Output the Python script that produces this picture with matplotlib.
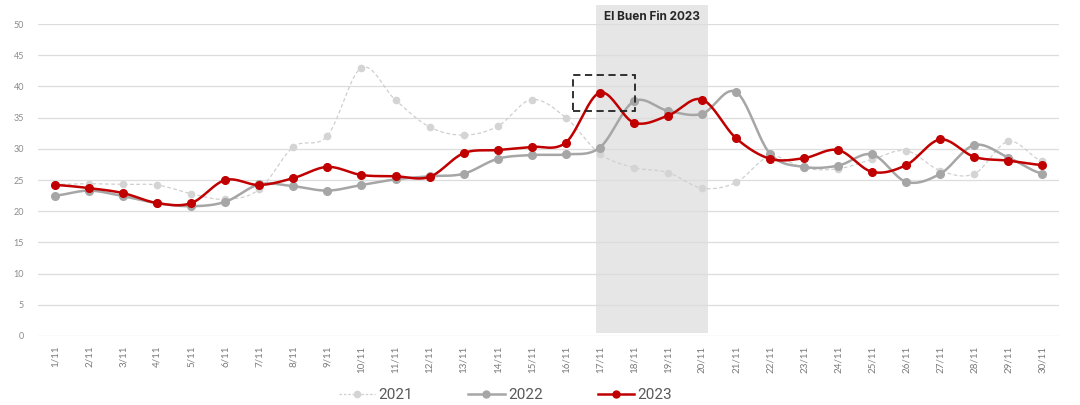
import numpy as np
import matplotlib
matplotlib.use("Agg")
import matplotlib.pyplot as plt
from matplotlib.patches import Rectangle

days = [f"{d}/11" for d in range(1, 31)]
y2021 = [24.3, 24.4, 24.3, 24.2, 22.8, 21.9, 23.5, 30.3, 32.1, 43.0,
         37.8, 33.5, 32.2, 33.6, 37.9, 35.0, 29.2, 27.0, 26.2, 23.7,
         24.6, 28.8, 26.9, 26.8, 28.3, 29.7, 26.5, 26.0, 31.2, 28.0]
y2022 = [22.5, 23.3, 22.4, 21.3, 20.8, 21.5, 24.3, 24.0, 23.3, 24.2,
         25.1, 25.6, 26.0, 28.4, 29.0, 29.1, 30.2, 37.6, 36.1, 35.6,
         39.1, 29.2, 27.1, 27.3, 29.1, 24.7, 26.0, 30.6, 28.6, 26.0]
y2023 = [24.2, 23.7, 22.9, 21.3, 21.3, 25.0, 24.2, 25.3, 27.1, 25.8,
         25.6, 25.5, 29.3, 29.8, 30.3, 31.0, 39.0, 34.2, 35.3, 37.9,
         31.7, 28.4, 28.5, 29.8, 26.3, 27.4, 31.5, 28.7, 28.1, 27.4]


def smooth(y, n=24):
    # catmull-rom curve through the points (like excel "smoothed line")
    y = np.asarray(y, float)
    xs, ys = [], []
    t = np.linspace(0, 1, n)
    for i in range(len(y) - 1):
        p0 = y[i - 1] if i > 0 else y[i]
        p3 = y[i + 2] if i + 2 < len(y) else y[i + 1]
        m1 = (y[i + 1] - p0) / 2
        m2 = (p3 - y[i]) / 2
        h00 = 2 * t**3 - 3 * t**2 + 1
        h10 = t**3 - 2 * t**2 + t
        h01 = -2 * t**3 + 3 * t**2
        h11 = t**3 - t**2
        xs.append(i + t)
        ys.append(h00 * y[i] + h10 * m1 + h01 * y[i + 1] + h11 * m2)
    return np.concatenate(xs), np.concatenate(ys)


fig = plt.figure(figsize=(10.8, 4.05), dpi=100)
ax = fig.add_axes([0.0352, 0.1704, 0.9458, 0.7703])
x = np.arange(len(days))

band = Rectangle((15.9, 0.5), 3.27, 52.6, facecolor="#e6e6e6",
                 edgecolor="none", zorder=0.5, clip_on=False)
ax.add_patch(band)
ax.text(17.53, 51.1, "El Buen Fin 2023", ha="center", va="center",
        fontsize=8.5, fontweight="bold", color="#262626", family="Inter")
ax.add_patch(Rectangle((15.2, 36.1), 1.83, 5.7, fill=False, edgecolor="#222222",
                       linestyle=(0, (4, 2.5)), linewidth=1.3, zorder=5))

sx, sy = smooth(y2021)
ax.plot(sx, sy, color="#cfcfcf", linewidth=0.9, linestyle=(0, (3, 2)), zorder=2)
ax.plot(x, y2021, "o", color="#d4d4d4", markersize=4.5, zorder=2)
sx, sy = smooth(y2022)
ax.plot(sx, sy, color="#a6a6a6", linewidth=1.8, zorder=3)
ax.plot(x, y2022, "o", color="#a6a6a6", markersize=5.5, zorder=3)
sx, sy = smooth(y2023)
ax.plot(sx, sy, color="#c00000", linewidth=1.8, zorder=4)
ax.plot(x, y2023, "o", color="#c00000", markersize=5.5, zorder=4)

# legend handles
h1, = ax.plot([], [], color="#cfcfcf", linewidth=0.9, linestyle=(0, (2, 1.5)),
              marker="o", markersize=4.5, markerfacecolor="#d4d4d4",
              markeredgecolor="#d4d4d4")
h2, = ax.plot([], [], color="#a6a6a6", linewidth=1.8, marker="o", markersize=5)
h3, = ax.plot([], [], color="#c00000", linewidth=1.8, marker="o", markersize=5)
leg = fig.legend([h1, h2, h3], ["2021", "2022", "2023"], loc="center",
                 bbox_to_anchor=(0.468, 0.025), ncol=3, frameon=False,
                 handlelength=2.4, handletextpad=0.2,
                 columnspacing=3.6, prop={"family": "Roboto", "size": 11})
for t in leg.get_texts():
    t.set_color("#595959")

ax.set_xlim(-0.5, 29.5)
ax.set_ylim(0, 50)
ax.set_yticks(range(0, 51, 5))
ax.set_xticks(x)
ax.set_xticklabels(days, rotation=90, fontsize=7, color="#7a7a7a", family="Lato")
for lab in ax.get_yticklabels():
    lab.set_fontsize(6.5)
    lab.set_color("#8c8c8c")
    lab.set_family("Lato")
ax.tick_params(length=0, pad=7)
ax.tick_params(axis="y", pad=10)
ax.grid(axis="y", color="#dddddd", linewidth=0.9, zorder=1)
ax.set_axisbelow(True)
for s in ax.spines.values():
    s.set_visible(False)

fig.savefig("out.png", dpi=100)
